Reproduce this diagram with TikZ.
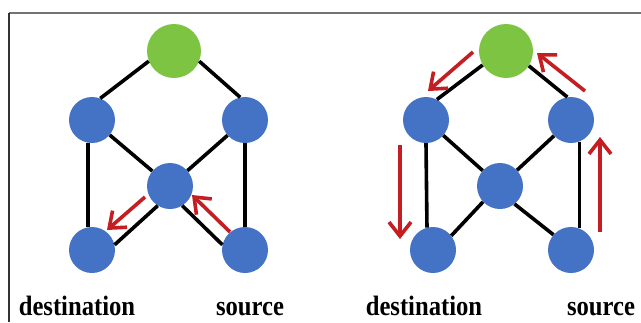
\documentclass[tikz,border=0pt]{standalone}
\usepackage{fontspec}
\setmainfont{Liberation Serif}
\usepackage{tikz}
\usetikzlibrary{arrows.meta}
\definecolor{nodeblue}{RGB}{68,114,196}
\definecolor{nodegreen}{RGB}{124,196,66}
\definecolor{flowred}{RGB}{196,30,34}
\newcommand{\capword}[1]{\scalebox{0.88}[1]{#1}}

\begin{document}
\begin{tikzpicture}[x=1pt,y=-1pt,
  router/.style={circle,fill=nodeblue,inner sep=0pt,minimum size=46pt},
  gateway/.style={circle,fill=nodegreen,inner sep=0pt,minimum size=54pt},
  link/.style={black,line width=3.6pt},
  flow/.style={flowred,line width=3.6pt,-{Straight Barb[length=14pt,width=22pt,line width=3.6pt]}},
  caption/.style={font=\fontsize{28}{30}\selectfont\bfseries,anchor=base,inner sep=0pt}]
\useasboundingbox (0,0) rectangle (641,322);
\draw[gray!90!black,line width=1.5pt] (9,13) -- (641,13);
\draw[black!80,line width=1.5pt] (9,13) -- (9,322);
% first graph
\node[gateway] (g1) at (174,51) {};
\node[router] (l1) at (92,120) {};
\node[router] (r1) at (245,120) {};
\node[router] (c1) at (170,186) {};
\node[router] (d1) at (92,250) {};
\node[router] (s1) at (245,250) {};
\draw[link] (g1.202) -- (l1.69);
\draw[link] (g1.338) -- (r1.102);
\draw[link] (l1.260) -- (d1.100);
\draw[link] (r1) -- (s1);
\draw[link] (l1) -- (c1);
\draw[link] (r1) -- (c1);
\draw[link] (c1.238) -- (d1.13);
\draw[link] (c1.302) -- (s1.167);
\coordinate (a1) at (145,197);
\coordinate (a2) at (107,230);
\coordinate (a3) at (230,232);
\coordinate (a4) at (192,195);
\draw[flow] (a1) -- (a2);
\draw[flow] (a3) -- (a4);
\node[caption] at (77,315) {\capword{destination}};
\node[caption] at (250,315) {\capword{source}};
% second graph
\node[gateway] (g2) at (506,51) {};
\node[router] (l2) at (426,120) {};
\node[router] (r2) at (571,120) {};
\node[router] (c2) at (500,186) {};
\node[router] (d2) at (433,250) {};
\node[router] (s2) at (571,250) {};
\draw[link] (g2.211) -- (l2.62);
\draw[link] (g2.327) -- (r2.99);
\draw[link] (l2.south) -- (d2.105);
\draw[link] (r2.292) -- (s2.68);
\draw[link] (l2) -- (c2);
\draw[link] (r2) -- (c2);
\draw[link] (c2.223) -- (d2.38);
\draw[link] (c2.309) -- (s2.139);
\coordinate (b1) at (473,52);
\coordinate (b2) at (428,91);
\coordinate (b3) at (585,91);
\coordinate (b4) at (537,53);
\coordinate (b5) at (400,145);
\coordinate (b6) at (400,239);
\coordinate (b7) at (600,232);
\coordinate (b8) at (600,137);
\draw[flow] (b1) -- (b2);
\draw[flow] (b3) -- (b4);
\draw[flow] (b5) -- (b6);
\draw[flow] (b7) -- (b8);
\node[caption] at (424,315) {\capword{destination}};
\node[caption] at (601,315) {\capword{source}};
\end{tikzpicture}
\end{document}
